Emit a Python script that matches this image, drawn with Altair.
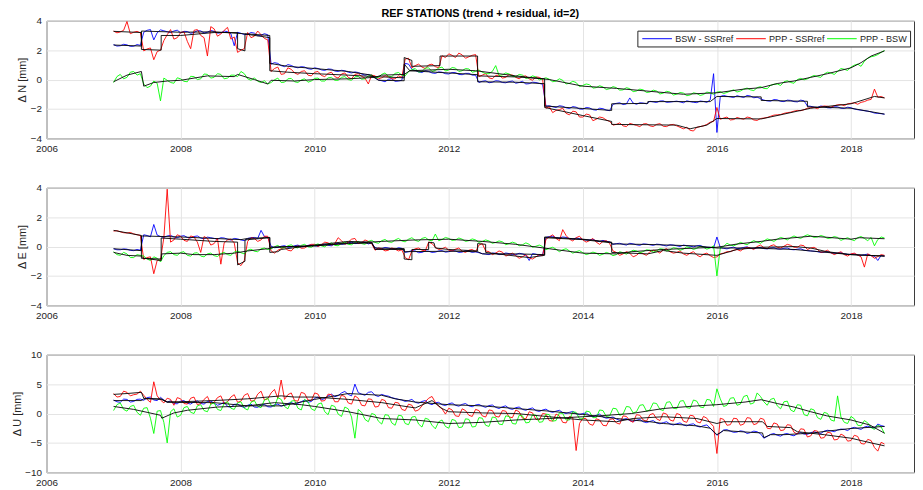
import altair as alt
import pandas as pd

SERIES = ["BSW - SSRref", "PPP - SSRref", "PPP - BSW"]
COLORS = ["#0000ff", "#ff0000", "#00ff00"]
FONT = "Liberation Sans"
TITLE = "REF STATIONS (trend + residual, id=2)"

# sampling epochs of the residual series (decimal years): whole tenths and the midpoints between them
YEARS = [round(2007.0 + 0.1 * i, 2) for i in range(116)]
YEARS_MID = [round(2007.05 + 0.1 * j, 2) for j in range(115)]
X_TICKS = [2006, 2008, 2010, 2012, 2014, 2016, 2018]

# ---------------- North ----------------
NB = [2.38, 2.30, 2.36, 2.27, 2.33, 3.35, 2.70, 3.38, 3.25, 3.30,
      3.18, 3.27, 3.20, 3.31, 3.22, 3.28, 3.18, 3.26, 2.30, 3.15,
      3.08, 3.16, 3.02, 3.05, 1.15, 0.95, 1.02, 0.85, 0.88, 0.74,
      0.80, 0.66, 0.72, 0.58, 0.63, 0.50, 0.52, 0.38, 0.35, 0.10,
      -0.08, 0.02, -0.12, -0.05, 1.05, 0.62, 0.48, 0.55, 0.42, 0.50,
      0.38, 0.47, 0.33, 0.42, 0.30, -0.12, -0.22, -0.08, -0.20, -0.14,
      -0.25, -0.12, -0.28, -0.20, -0.32, -1.78, -1.90, -1.82, -1.97, -1.88,
      -2.02, -1.93, -2.08, -1.98, -2.12, -1.62, -1.70, -1.25, -1.68, -1.60,
      -1.48, -1.56, -1.45, -1.53, -1.47, -1.58, -1.50, -1.57, -1.49, -1.38,
      -3.60, -1.08, -1.18, -1.10, -1.22, -1.12, -1.20, -1.40, -1.47, -1.38,
      -1.50, -1.42, -1.52, -1.45, -1.82, -1.90, -1.84, -1.93, -1.86, -1.97,
      -1.92, -2.05, -2.12, -2.20, -2.30, -2.36]
NB_M = [2.28, 2.40, 2.26, 2.38, 3.22, 3.40, 3.18, 3.32, 3.20, 3.36,
        3.28, 3.15, 3.33, 3.17, 3.34, 3.16, 3.30, 3.12, 3.22, 3.06,
        3.20, 2.98, 3.12, 1.05, 1.10, 0.88, 0.96, 0.80, 0.85, 0.70,
        0.75, 0.62, 0.70, 0.55, 0.60, 0.45, 0.48, 0.30, 0.25, -0.02,
        -0.15, 0.05, -0.10, 1.10, 0.70, 0.52, 0.60, 0.45, 0.52, 0.40,
        0.48, 0.35, 0.42, 0.30, -0.20, -0.08, -0.18, -0.10, -0.22, -0.10,
        -0.20, -0.30, -0.18, -0.26, -1.82, -1.85, -1.78, -1.92, -1.84, -2.00,
        -1.90, -2.05, -1.95, -2.08, -1.68, -1.58, -1.66, -1.60, -1.58, -1.65,
        -1.52, -1.46, -1.55, -1.50, -1.52, -1.45, -1.55, -1.46, -1.55, 0.40,
        -1.15, -1.14, -1.22, -1.16, -1.08, -1.24, -1.30, -1.45, -1.36, -1.48,
        -1.40, -1.50, -1.40, -1.80, -1.88, -1.80, -1.92, -1.85, -1.95, -1.88,
        -2.00, -2.08, -2.15, -2.28, -2.32]
NR = [3.30, 3.24, 3.95, 3.22, 3.18, 2.08, 1.35, 2.00, 3.05, 2.75,
      3.20, 2.60, 3.35, 3.00, 1.60, 3.45, 3.10, 3.55, 2.90, 2.00,
      3.20, 2.95, 3.05, 2.70, 0.75, 0.35, 0.80, 0.45, 0.55, 0.30,
      0.50, 0.28, 0.42, 0.20, 0.38, 0.15, 0.35, 0.22, -0.30, 0.25,
      0.12, 0.20, 0.05, 0.15, 1.45, 0.95, 0.85, 1.00, 0.88, 1.62,
      1.75, 1.50, 1.68, 1.55, 1.70, 0.30, 0.12, 0.28, 0.10, 0.35,
      0.15, 0.22, 0.05, 0.18, 0.02, -1.85, -2.10, -1.95, -2.40, -2.20,
      -2.55, -2.40, -2.70, -2.60, -2.85, -3.05, -3.15, -2.98, -3.12, -3.02,
      -3.15, -3.05, -3.18, -3.08, -3.15, -3.35, -3.45, -3.25, -3.15, -2.90,
      -1.90, -2.62, -2.75, -2.58, -2.70, -2.60, -2.78, -2.62, -2.50, -2.40,
      -2.30, -2.22, -2.10, -2.05, -1.92, -1.98, -1.80, -1.88, -1.72, -1.78,
      -1.62, -1.68, -1.50, -1.35, -1.20, -1.25]
NR_M = [3.18, 3.35, 3.12, 3.28, 1.95, 2.15, 1.90, 2.65, 3.40, 2.85,
        3.25, 2.10, 3.40, 2.85, 3.60, 2.95, 3.35, 2.75, 1.85, 2.10,
        2.85, 3.30, 2.80, 0.55, 0.85, 0.40, 0.70, 0.35, 0.60, 0.25,
        0.55, 0.20, 0.50, 0.10, 0.45, 0.05, 0.40, 0.10, 0.30, 0.05,
        0.25, 0.05, 0.25, 1.40, 0.80, 1.05, 0.75, 1.05, 0.80, 1.50,
        1.65, 1.80, 1.45, 1.65, 0.20, 0.40, 0.05, 0.30, 0.15, 0.30,
        0.05, 0.25, -0.05, 0.15, -1.95, -2.25, -2.05, -2.30, -2.15, -2.55,
        -2.35, -2.80, -2.55, -2.75, -3.10, -2.95, -3.20, -3.05, -3.20, -3.00,
        -3.20, -3.00, -3.20, -3.05, -3.25, -3.25, -3.50, -3.20, -3.05, -2.85,
        -2.70, -2.55, -2.72, -2.65, -2.55, -2.75, -2.65, -2.58, -2.42, -2.38,
        -2.25, -2.15, -2.12, -1.95, -1.90, -1.85, -1.82, -1.78, -1.70, -1.65,
        -1.58, -1.55, -1.40, -0.65, -1.15]
NG = [-0.20, 0.35, 0.15, 0.55, 0.40, -0.55, -0.10, -1.45, -0.05, -0.25,
      0.05, -0.15, 0.20, 0.05, 0.35, 0.15, 0.35, 0.10, 0.30, 0.55,
      0.05, 0.12, -0.20, -0.30, -0.02, -0.20, 0.05, -0.15, -0.02, -0.18,
      0.08, -0.10, 0.12, -0.05, 0.15, 0.00, 0.18, 0.02, 0.25, 0.10,
      0.35, 0.22, 0.42, 0.30, 0.55, 0.75, 0.55, 0.80, 0.62, 0.85,
      0.65, 0.78, 0.60, 0.72, 0.55, 0.50, 0.40, 0.95, 0.32, 0.38,
      0.20, 0.30, 0.12, 0.18, 0.05, 0.02, -0.10, -0.05, -0.25, -0.20,
      -0.40, -0.35, -0.55, -0.50, -0.62, -0.55, -0.70, -0.62, -0.78, -0.70,
      -0.85, -0.78, -0.92, -0.85, -1.00, -0.92, -1.05, -0.95, -1.02, -0.90,
      -0.85, -0.95, -0.78, -0.85, -0.65, -0.70, -0.55, -0.60, -0.40, -0.30,
      -0.15, -0.20, 0.00, -0.02, 0.18, 0.20, 0.38, 0.45, 0.55, 0.70,
      0.85, 1.05, 1.25, 1.55, 1.70, 1.98]
NG_M = [0.20, 0.05, 0.50, 0.30, -0.30, -0.45, -0.25, 0.10, -0.20, 0.12,
        -0.12, 0.22, 0.00, 0.38, 0.10, 0.40, 0.05, 0.30, 0.20, 0.40,
        -0.05, -0.12, -0.08, -0.20, 0.10, -0.18, 0.08, -0.20, 0.05, -0.10,
        0.10, -0.10, 0.15, -0.05, 0.20, -0.05, 0.22, 0.05, 0.30, 0.15,
        0.45, 0.20, 0.48, 0.25, 0.68, 0.50, 0.78, 0.55, 0.78, 0.58,
        0.82, 0.55, 0.75, 0.50, 0.65, 0.40, 0.55, 0.28, 0.45, 0.22,
        0.35, 0.08, 0.25, -0.02, 0.12, -0.15, 0.05, -0.30, -0.12, -0.48,
        -0.30, -0.58, -0.42, -0.68, -0.48, -0.72, -0.55, -0.82, -0.65, -0.88,
        -0.72, -0.98, -0.80, -1.05, -0.88, -1.10, -0.90, -1.08, -0.85, -1.00,
        -0.82, -0.88, -0.70, -0.78, -0.58, -0.75, -0.48, -0.62, -0.32, -0.40,
        -0.08, -0.25, 0.08, 0.05, 0.28, 0.15, 0.50, 0.35, 0.75, 0.62,
        0.98, 0.90, 1.45, 1.60, 1.85]
NB_TREND = [[2007.0, 2.35], [2007.415, 2.28], [2007.415, 3.3], [2008.0, 3.22], [2008.5, 3.25],
            [2009.0, 3.1], [2009.33, 3.0], [2009.33, 1.1], [2009.6, 0.9], [2010.0, 0.75],
            [2010.5, 0.55], [2010.85, 0.3], [2010.95, -0.05], [2011.335, -0.08], [2011.335, 1.05],
            [2011.42, 0.6], [2012.0, 0.45], [2012.43, 0.33], [2012.43, -0.15], [2013.0, -0.18],
            [2013.43, -0.28], [2013.43, -1.8], [2014.0, -1.97], [2014.43, -2.1], [2014.43, -1.65],
            [2014.97, -1.62], [2014.97, -1.5], [2015.9, -1.5], [2016.0, -1.15], [2016.66, -1.18],
            [2016.66, -1.42], [2017.35, -1.48], [2017.35, -1.85], [2018.0, -1.95], [2018.5, -2.35]]
NR_TREND = [[2007.0, 3.28], [2007.415, 3.2], [2007.415, 2.05], [2007.71, 2.0], [2007.71, 3.0],
            [2008.0, 3.0], [2008.5, 3.2], [2008.85, 3.2], [2008.85, 2.1], [2008.96, 1.95],
            [2008.96, 3.1], [2009.33, 2.85], [2009.33, 0.6], [2009.6, 0.5], [2010.0, 0.4],
            [2010.5, 0.3], [2010.9, 0.2], [2011.335, 0.12], [2011.335, 1.5], [2011.45, 1.3],
            [2011.45, 0.9], [2011.87, 0.95], [2011.87, 1.6], [2012.43, 1.6], [2012.43, 0.25],
            [2013.0, 0.18], [2013.43, 0.05], [2013.43, -1.9], [2014.0, -2.45], [2014.43, -2.85],
            [2014.43, -3.05], [2015.4, -3.1], [2015.6, -3.35], [2015.85, -3.1], [2016.0, -2.65],
            [2016.66, -2.68], [2017.0, -2.35], [2017.4, -1.95], [2018.0, -1.65], [2018.35, -1.15],
            [2018.5, -1.25]]
NG_TREND = [[2007.0, -0.15], [2007.2, 0.3], [2007.415, 0.55], [2007.45, -0.45], [2007.6, -0.2],
            [2007.8, -0.1], [2008.0, -0.05], [2008.4, 0.25], [2008.8, 0.2], [2008.85, 0.35],
            [2009.1, 0.0], [2009.3, -0.3], [2009.35, -0.05], [2009.7, -0.1], [2010.0, 0.0],
            [2010.5, 0.05], [2010.9, 0.15], [2011.0, 0.3], [2011.335, 0.35], [2011.42, 0.6],
            [2012.0, 0.7], [2012.4, 0.6], [2013.0, 0.25], [2013.5, 0.0], [2014.0, -0.45],
            [2014.5, -0.6], [2015.0, -0.8], [2015.5, -1.0], [2016.0, -0.9], [2016.4, -0.65],
            [2016.66, -0.55], [2016.9, -0.27], [2017.15, -0.1], [2017.4, 0.15], [2017.65, 0.4],
            [2018.0, 0.8], [2018.15, 1.15], [2018.3, 1.6], [2018.5, 1.95]]

# ---------------- East ----------------
EB = [-0.15, -0.22, -0.18, -0.28, -0.25, 0.75, 1.50, 0.68, 0.72, 0.65,
      0.70, 0.62, 0.68, 0.58, 0.64, 0.55, 0.60, 0.50, 0.55, 0.45,
      0.55, 0.62, 1.10, 0.62, -0.08, 0.02, -0.05, 0.05, -0.02, 0.08,
      0.05, 0.12, 0.08, 0.18, 0.15, 0.25, 0.20, 0.28, 0.18, -0.08,
      -0.15, -0.10, -0.18, -0.12, -0.35, -0.30, -0.40, -0.32, -0.38, -0.28,
      -0.35, -0.30, -0.38, -0.32, -0.36, -0.48, -0.55, -0.45, -0.52, -0.48,
      -0.55, -0.50, -0.95, -0.52, -0.58, 0.68, 0.60, 0.65, 0.55, 0.58,
      0.48, 0.45, 0.38, 0.42, 0.32, 0.20, 0.15, 0.22, 0.12, 0.18,
      0.12, 0.16, 0.08, 0.12, 0.05, 0.10, 0.02, 0.05, -0.02, -0.05,
      0.65, -0.12, -0.08, -0.14, -0.06, -0.12, -0.08, -0.14, -0.10, -0.16,
      -0.12, -0.20, -0.18, -0.25, -0.30, -0.35, -0.38, -0.42, -0.45, -0.50,
      -0.52, -0.58, -0.55, -0.62, -0.95, -0.65]
EB_M = [-0.22, -0.16, -0.26, -0.20, 0.80, 0.66, 0.78, 0.62, 0.76, 0.60,
        0.74, 0.58, 0.72, 0.52, 0.60, 0.50, 0.58, 0.44, 0.52, 0.40,
        0.60, 0.55, 0.68, 0.02, -0.06, 0.06, -0.04, 0.10, 0.00, 0.12,
        0.02, 0.16, 0.05, 0.22, 0.18, 0.30, 0.22, 0.30, 0.25, -0.14,
        -0.06, -0.16, -0.08, -0.40, -0.28, -0.42, -0.30, -0.40, -0.30, -0.38,
        -0.28, -0.40, -0.28, -0.40, -0.42, -0.52, -0.45, -0.55, -0.44, -0.55,
        -0.46, -0.58, -0.48, -0.60, 0.62, 0.70, 0.58, 0.62, 0.50, 0.54,
        0.44, 0.50, 0.34, 0.36, 0.14, 0.22, 0.10, 0.18, 0.08, 0.16,
        0.08, 0.14, 0.04, 0.10, 0.00, 0.06, -0.02, 0.08, -0.06, -0.10,
        -0.06, -0.16, -0.04, -0.12, -0.02, -0.14, -0.06, -0.16, -0.08, -0.18,
        -0.10, -0.22, -0.15, -0.28, -0.32, -0.40, -0.35, -0.46, -0.42, -0.54,
        -0.50, -0.60, -0.52, -0.66, -0.60]
ER = [1.05, 1.00, 0.92, 0.86, 0.76, -0.75, -1.85, -0.90, 3.90, 0.45,
      0.70, 0.35, 0.65, -0.40, 0.55, 0.20, -1.20, 0.45, 0.25, -1.30,
      0.35, 0.55, 0.45, 0.70, -0.45, -0.15, -0.25, -0.05, -0.12, 0.05,
      0.15, 0.12, 0.25, 0.20, 0.40, 0.30, 0.55, 0.25, 0.35, -0.25,
      -0.15, -0.25, -0.18, -0.22, -0.90, -0.15, -0.25, 0.30, -0.05, -0.15,
      -0.25, -0.18, -0.32, -0.25, -0.35, 0.20, -0.35, -0.45, -0.38, -0.55,
      -0.62, -0.70, -0.78, -0.70, -0.62, 0.65, 0.55, 1.15, 0.50, 0.60,
      0.45, 0.40, 0.30, 0.35, 0.20, -0.40, -0.50, -0.45, -0.60, -0.50,
      -0.35, -0.30, -0.22, -0.35, -0.40, -0.50, -0.45, -0.58, -0.52, -0.62,
      -0.70, -0.45, -0.35, -0.20, -0.15, -0.10, 0.00, -0.08, 0.05, -0.05,
      0.02, 0.08, -0.05, 0.05, -0.10, -0.20, -0.35, -0.42, -0.45, -0.55,
      -0.50, -0.58, -1.40, -0.62, -0.68, -0.60]
ER_M = [1.08, 0.94, 0.96, 0.80, -0.88, -0.70, -0.95, 0.60, 0.30, 0.80,
        0.42, 0.72, 0.30, 0.68, 0.10, 0.55, 0.25, 0.50, -1.10, -0.95,
        0.60, 0.35, 0.70, -0.30, -0.25, -0.05, -0.30, 0.05, -0.10, 0.15,
        0.00, 0.30, 0.10, 0.60, 0.15, 0.50, 0.20, 0.45, 0.20, -0.10,
        -0.30, -0.10, -0.30, -0.75, -0.30, -0.10, -0.30, 0.20, -0.20, -0.05,
        -0.30, -0.10, -0.40, -0.20, 0.10, -0.30, -0.55, -0.30, -0.65, -0.45,
        -0.80, -0.55, -0.85, -0.55, 0.50, 0.80, 0.40, 0.75, 0.38, 0.70,
        0.30, 0.55, 0.15, 0.40, -0.30, -0.60, -0.35, -0.70, -0.40, -0.60,
        -0.25, -0.45, -0.15, -0.45, -0.30, -0.60, -0.35, -0.70, -0.45, -0.75,
        -0.50, -0.35, -0.25, -0.30, -0.05, -0.20, 0.10, -0.15, 0.12, -0.10,
        0.15, -0.05, 0.10, -0.20, -0.05, -0.40, -0.25, -0.55, -0.35, -0.65,
        -0.45, -0.70, -0.50, -0.80, -0.55]
EG = [-0.35, -0.60, -0.50, -0.75, -0.60, -0.85, -0.70, -1.05, -0.40, -0.55,
      -0.40, -0.60, -0.45, -0.65, -0.50, -0.62, -0.48, -0.55, -0.38, -0.42,
      -0.25, -0.32, -0.15, -0.20, -0.02, -0.10, 0.05, -0.05, 0.08, -0.02,
      0.10, 0.05, 0.15, 0.08, 0.22, 0.15, 0.28, 0.20, 0.35, 0.28,
      0.40, 0.32, 0.45, 0.38, 0.50, 0.42, 0.55, 0.45, 0.85, 0.48,
      0.55, 0.45, 0.50, 0.40, 0.45, 0.35, 0.38, 0.28, 0.32, 0.20,
      0.22, 0.12, 0.15, 0.02, 0.00, -0.12, -0.18, -0.22, -0.30, -0.35,
      -0.42, -0.48, -0.45, -0.52, -0.48, -0.55, -0.42, -0.38, -0.30, -0.35,
      -0.25, -0.30, -0.18, -0.22, -0.12, -0.18, -0.08, -0.12, -0.05, -0.10,
      -2.00, 0.00, 0.10, 0.15, 0.20, 0.28, 0.30, 0.38, 0.45, 0.50,
      0.55, 0.60, 0.62, 0.70, 0.72, 0.65, 0.68, 0.58, 0.62, 0.52,
      0.48, 0.60, 0.55, 0.62, 0.48, 0.58]
EG_M = [-0.55, -0.40, -0.75, -0.55, -0.65, -0.95, -0.80, -0.62, -0.35, -0.60,
        -0.35, -0.65, -0.42, -0.70, -0.45, -0.68, -0.40, -0.60, -0.30, -0.50,
        -0.18, -0.35, -0.10, -0.15, 0.08, -0.08, 0.12, -0.10, 0.15, -0.05,
        0.18, -0.02, 0.25, 0.05, 0.30, 0.12, 0.35, 0.15, 0.42, 0.22,
        0.48, 0.28, 0.55, 0.32, 0.60, 0.35, 0.62, 0.38, 0.40, 0.62,
        0.42, 0.58, 0.35, 0.52, 0.28, 0.45, 0.22, 0.38, 0.12, 0.30,
        0.05, 0.25, -0.05, 0.10, -0.22, -0.05, -0.35, -0.15, -0.45, -0.28,
        -0.55, -0.38, -0.60, -0.40, -0.62, -0.35, -0.52, -0.25, -0.42, -0.22,
        -0.38, -0.15, -0.30, -0.08, -0.25, -0.02, -0.20, 0.02, -0.18, 0.05,
        -0.10, 0.22, 0.05, 0.28, 0.12, 0.40, 0.22, 0.52, 0.35, 0.62,
        0.45, 0.72, 0.55, 0.80, 0.62, 0.75, 0.55, 0.68, 0.42, 0.60,
        0.40, 0.68, 0.40, 0.05, 0.65]
EB_TREND = [[2007.0, -0.15], [2007.415, -0.28], [2007.415, 0.72], [2008.0, 0.65], [2008.5, 0.55],
            [2008.9, 0.47], [2009.0, 0.55], [2009.33, 0.62], [2009.33, -0.05], [2009.6, 0.0],
            [2010.0, 0.05], [2010.5, 0.25], [2010.85, 0.22], [2010.9, -0.1], [2011.335, -0.14],
            [2011.335, -0.35], [2012.0, -0.32], [2012.43, -0.35], [2012.5, -0.5], [2013.0, -0.5],
            [2013.43, -0.55], [2013.43, 0.65], [2014.0, 0.5], [2014.43, 0.3], [2014.43, 0.18],
            [2015.0, 0.14], [2015.7, 0.04], [2016.0, -0.1], [2016.5, -0.1], [2017.15, -0.2],
            [2017.4, -0.3], [2018.0, -0.55], [2018.5, -0.65]]
ER_TREND = [[2007.0, 1.1], [2007.415, 0.75], [2007.415, -0.8], [2007.71, -0.85], [2007.71, 0.58],
            [2008.0, 0.5], [2008.5, 0.35], [2008.85, 0.3], [2008.85, -1.25], [2008.96, -1.0],
            [2008.96, 0.45], [2009.33, 0.6], [2009.33, -0.4], [2009.45, -0.35], [2009.5, -0.2],
            [2010.0, 0.1], [2010.5, 0.35], [2010.85, 0.3], [2010.9, -0.2], [2011.335, -0.2],
            [2011.335, -0.85], [2011.45, -0.9], [2011.45, -0.2], [2011.7, -0.2], [2011.7, 0.3],
            [2011.78, 0.25], [2011.8, -0.1], [2012.0, -0.2], [2012.43, -0.3], [2012.43, 0.2],
            [2012.55, 0.15], [2012.55, -0.4], [2013.0, -0.65], [2013.2, -0.75], [2013.43, -0.6],
            [2013.43, 0.6], [2014.0, 0.47], [2014.43, 0.25], [2014.43, -0.4], [2014.97, -0.5],
            [2015.2, -0.27], [2015.5, -0.45], [2016.0, -0.6], [2016.3, -0.2], [2016.66, -0.05],
            [2017.15, 0.0], [2017.4, -0.1], [2017.64, -0.35], [2018.0, -0.55], [2018.5, -0.65]]
EG_TREND = [[2007.0, -0.4], [2007.2, -0.6], [2007.415, -0.65], [2007.45, -0.8], [2007.71, -0.95],
            [2007.72, -0.5], [2008.0, -0.45], [2008.2, -0.55], [2008.5, -0.55], [2008.8, -0.45],
            [2009.0, -0.3], [2009.3, -0.15], [2009.4, -0.05], [2009.7, 0.0], [2010.0, 0.05],
            [2010.5, 0.2], [2011.0, 0.35], [2011.5, 0.45], [2012.0, 0.5], [2012.5, 0.35],
            [2013.0, 0.15], [2013.5, -0.15], [2014.0, -0.45], [2014.5, -0.5], [2014.73, -0.35],
            [2015.2, -0.2], [2015.7, -0.1], [2016.0, -0.05], [2016.3, 0.17], [2016.66, 0.35],
            [2016.9, 0.5], [2017.4, 0.7], [2017.64, 0.63], [2018.0, 0.5], [2018.13, 0.6],
            [2018.5, 0.53]]

# ---------------- Up ----------------
UB = [2.30, 1.90, 2.40, 2.05, 2.45, 2.70, 2.30, 2.75, 1.95, 1.70,
      2.10, 1.75, 2.00, 1.70, 2.05, 1.75, 1.60, 1.20, 1.55, 1.25,
      1.40, 1.10, 1.45, 1.15, 1.50, 1.25, 1.70, 1.55, 2.00, 1.90,
      2.60, 2.35, 3.00, 2.85, 3.50, 3.25, 5.00, 3.30, 3.60, 3.10,
      3.25, 2.95, 2.55, 2.30, 2.20, 1.90, 2.05, 1.70, 1.85, 1.50,
      1.65, 1.40, 1.55, 1.30, 1.45, 1.25, 1.35, 1.05, 1.15, 0.85,
      1.00, 0.70, 0.80, 0.50, 0.60, 0.35, 0.40, 0.15, 0.20, -0.05,
      0.00, -0.35, -0.30, -0.60, -0.70, -0.95, -1.05, -1.20, -1.15, -1.40,
      -1.35, -1.60, -1.55, -1.80, -1.75, -1.95, -1.85, -2.15, -2.05, -2.50,
      -3.70, -2.80, -3.00, -3.15, -3.05, -3.25, -3.10, -4.20, -3.55, -3.70,
      -3.50, -3.65, -3.40, -3.50, -3.25, -3.30, -3.00, -2.95, -2.80, -2.70,
      -2.50, -2.55, -2.30, -2.35, -1.80, -2.20]
UB_M = [2.00, 2.45, 1.95, 2.40, 2.25, 2.80, 2.20, 2.30, 2.15, 1.65,
        2.20, 1.60, 2.15, 1.60, 2.10, 1.40, 1.95, 1.05, 1.60, 1.00,
        1.60, 1.05, 1.55, 1.10, 1.60, 1.40, 1.90, 1.75, 2.30, 2.05,
        2.80, 2.55, 3.30, 3.05, 3.75, 3.00, 3.55, 3.10, 3.70, 2.90,
        3.05, 2.70, 2.40, 2.05, 2.40, 1.75, 2.20, 1.50, 1.90, 1.35,
        1.80, 1.25, 1.70, 1.15, 1.55, 1.05, 1.45, 0.85, 1.30, 0.70,
        1.10, 0.55, 0.95, 0.35, 0.75, 0.20, 0.55, 0.00, 0.35, -0.20,
        0.10, -0.55, -0.10, -0.80, -0.60, -1.15, -0.85, -1.35, -1.00, -1.55,
        -1.20, -1.75, -1.40, -1.95, -1.60, -2.10, -1.75, -2.30, -1.95, -3.10,
        -3.30, -2.75, -3.20, -2.95, -3.40, -3.00, -3.45, -3.90, -3.40, -3.85,
        -3.40, -3.80, -3.25, -3.55, -3.10, -3.40, -2.85, -3.10, -2.65, -2.90,
        -2.35, -2.70, -2.15, -2.50, -2.05]
UR = [3.40, 2.90, 3.60, 3.20, 3.80, 2.40, 5.40, 2.30, 2.60, 1.40,
      2.50, 1.60, 2.80, 1.70, 2.90, 1.90, 3.00, 2.00, 3.20, 2.10,
      3.40, 2.20, 3.80, 2.50, 4.10, 5.70, 3.20, 2.20, 3.60, 2.30,
      3.50, 2.10, 3.30, 2.00, 3.10, 1.80, 3.00, 1.40, 2.50, 1.10,
      2.40, 1.00, 1.90, 0.70, 1.60, 0.40, 1.30, 2.60, 1.90, 0.80,
      0.90, -0.40, 0.80, -0.30, 0.70, -0.40, 0.60, -0.50, 0.50, -0.60,
      0.60, -0.80, 0.30, -1.00, 0.00, -1.20, -0.10, -1.50, -0.50, -6.30,
      -0.80, -1.80, -0.90, -2.00, -1.00, -1.60, -0.40, -1.20, -0.20, -1.10,
      -0.20, -0.90, 0.10, -1.10, 0.00, -1.30, -0.30, -1.40, -0.50, -1.60,
      -6.80, -1.00, -1.90, -0.90, -1.80, -0.80, -1.70, -1.00, -2.60, -1.80,
      -2.80, -2.00, -3.50, -2.70, -3.80, -3.00, -4.10, -3.30, -4.40, -3.80,
      -4.60, -3.90, -5.20, -4.60, -6.40, -5.20]
UR_M = [2.80, 3.80, 3.00, 3.30, 3.10, 1.90, 3.00, 1.80, 2.40, 2.70,
        1.70, 2.60, 1.50, 2.40, 1.60, 2.70, 1.70, 2.80, 1.90, 3.10,
        2.10, 3.30, 2.30, 3.50, 2.60, 2.40, 3.50, 2.10, 3.40, 2.20,
        3.30, 2.20, 3.20, 2.00, 2.90, 1.60, 2.60, 1.30, 2.40, 1.20,
        2.20, 0.90, 1.80, 0.50, 1.40, 0.60, 2.00, 2.90, 1.20, -0.10,
        0.60, -0.50, 0.50, -0.50, 0.50, -0.60, 0.50, -0.60, 0.40, -0.70,
        0.30, -0.90, 0.10, -1.10, -0.10, -1.30, -0.40, -1.60, -0.70, -1.70,
        -0.90, -2.00, -1.10, -2.10, -0.90, -1.80, -0.50, -1.50, -0.30, -1.30,
        0.00, -1.20, -0.10, -1.30, -0.20, -1.50, -0.40, -1.60, -0.80, -2.20,
        -0.80, -2.00, -0.80, -2.00, -0.70, -1.90, -0.80, -2.50, -1.60, -2.90,
        -1.90, -3.20, -2.60, -4.00, -2.90, -4.20, -3.20, -4.50, -3.50, -4.70,
        -3.70, -5.10, -4.40, -5.80, -4.90]
UG = [0.50, 1.80, 0.40, 1.40, -0.30, 1.00, -3.40, 0.50, -5.00, 0.80,
      -0.30, 1.20, 0.00, 1.50, 0.30, 1.80, 0.50, 2.00, 0.70, 2.00,
      0.60, 2.20, 1.00, 2.60, 1.20, 2.40, 0.80, 2.20, 0.60, 2.00,
      0.50, 1.80, -0.20, 1.20, -0.50, 0.80, -4.20, 0.20, -1.40, -0.20,
      -1.80, -0.30, -2.00, -0.40, -1.90, -0.50, -2.30, -1.00, -2.60, -1.10,
      -2.50, -1.20, -2.30, -1.00, -2.20, -0.80, -2.20, -0.70, -1.90, -0.50,
      -1.80, -0.40, -1.50, -0.30, -1.40, -0.20, -1.20, 0.00, -1.10, 0.20,
      -0.90, 0.30, -0.70, 0.50, -0.40, 0.80, -0.10, 1.10, 0.30, 1.50,
      0.60, 1.70, 0.50, 2.00, 0.80, 2.20, 0.90, 2.10, 1.00, 2.30,
      4.20, 1.20, 2.60, 1.40, 2.90, 1.60, 3.50, 2.00, 2.40, 1.30,
      2.00, 0.60, 1.50, -0.20, 0.80, -0.70, 0.20, -1.10, 3.00, -1.50,
      -0.50, -2.00, -1.20, -2.40, -2.00, -3.40]
UG_M = [1.50, 0.70, 1.20, 0.20, 0.90, -0.80, 0.40, -1.50, 0.30, -0.60,
        1.00, 0.20, 1.30, 0.50, 1.60, 0.70, 1.70, 0.90, 1.80, 0.90,
        1.90, 1.20, 2.30, 1.40, 2.70, 1.20, 2.10, 0.90, 2.40, 0.80,
        1.60, 0.30, 1.40, -0.10, 1.10, -0.60, 0.70, -1.00, 0.00, -1.30,
        -0.20, -1.60, -0.30, -1.70, -0.60, -1.80, -0.80, -2.00, -1.40, -2.20,
        -1.00, -2.40, -0.90, -2.30, -0.70, -2.00, -0.60, -1.80, -0.40, -1.70,
        -0.30, -1.60, -0.20, -1.50, -0.10, -1.30, 0.10, -1.10, 0.30, -0.90,
        0.40, -0.70, 0.60, -0.50, 0.90, -0.30, 1.20, 0.10, 1.40, 0.40,
        1.80, 0.70, 1.90, 0.90, 2.10, 1.00, 2.30, 1.10, 2.40, 1.20,
        2.50, 1.40, 2.70, 1.60, 3.10, 1.80, 2.90, 1.40, 2.60, 0.80,
        2.10, 0.30, 1.40, -0.40, 0.60, -1.00, 0.00, -1.30, -0.60, -1.70,
        -0.90, -2.10, -1.60, -2.70, -2.30]
UB_TREND = [[2007.0, 2.2], [2007.415, 2.2], [2007.45, 2.5], [2007.71, 2.5], [2007.8, 1.9],
            [2008.5, 1.85], [2009.0, 1.3], [2009.5, 1.3], [2010.0, 2.4], [2010.5, 3.4],
            [2011.0, 3.1], [2011.2, 2.5], [2011.5, 1.95], [2012.0, 1.5], [2012.5, 1.3],
            [2013.0, 0.85], [2013.5, 0.4], [2014.0, -0.15], [2014.5, -0.85], [2015.0, -1.4],
            [2015.2, -1.7], [2015.7, -2.1], [2015.9, -2.5], [2016.0, -3.6], [2016.1, -2.9],
            [2016.5, -3.2], [2016.68, -3.3], [2016.7, -4.1], [2016.8, -3.6], [2017.0, -3.6],
            [2017.4, -3.35], [2017.64, -3.0], [2018.0, -2.55], [2018.5, -2.2]]
UR_TREND = [[2007.0, 3.25], [2007.2, 3.4], [2007.415, 3.6], [2007.45, 2.6], [2007.71, 2.4],
            [2007.8, 2.0], [2008.0, 2.0], [2008.5, 2.2], [2009.0, 2.5], [2009.5, 3.0],
            [2009.7, 2.8], [2010.0, 2.8], [2010.5, 2.4], [2011.0, 1.85], [2011.3, 1.3],
            [2011.5, 0.95], [2011.75, 2.2], [2011.9, 0.85], [2012.0, 0.3], [2012.5, 0.1],
            [2013.0, 0.0], [2013.5, -0.55], [2014.0, -1.1], [2014.5, -1.4], [2014.75, -0.85],
            [2015.2, -0.55], [2015.7, -0.85], [2016.0, -1.7], [2016.1, -1.4], [2016.68, -1.4],
            [2016.75, -2.2], [2017.1, -2.4], [2017.2, -3.1], [2017.6, -3.6], [2018.0, -4.2],
            [2018.3, -5.0], [2018.5, -5.5]]
UG_TREND = [[2007.0, 1.2], [2007.3, 0.7], [2007.5, 0.2], [2007.7, -0.3], [2007.72, -0.8],
            [2007.9, 0.1], [2008.1, 0.55], [2008.55, 1.1], [2009.0, 1.3], [2009.4, 1.85],
            [2009.8, 1.5], [2010.0, 1.2], [2010.5, 0.3], [2011.0, -0.85], [2011.5, -1.1],
            [2012.0, -1.7], [2012.5, -1.5], [2013.0, -1.1], [2013.5, -0.85], [2014.0, -0.55],
            [2014.24, -0.4], [2014.73, 0.0], [2015.2, 0.85], [2015.7, 1.3], [2016.0, 1.5],
            [2016.42, 1.95], [2016.66, 2.35], [2016.9, 1.7], [2017.15, 1.1], [2017.4, 0.3],
            [2017.64, -0.4], [2018.0, -1.1], [2018.28, -1.95], [2018.5, -3.35]]

PANELS = [
    ("\u0394 N [mm]", [-4, 4], [-4, -2, 0, 2, 4],
     [(NB, NB_M), (NR, NR_M), (NG, NG_M)], [NB_TREND, NR_TREND, NG_TREND]),
    ("\u0394 E [mm]", [-4, 4], [-4, -2, 0, 2, 4],
     [(EB, EB_M), (ER, ER_M), (EG, EG_M)], [EB_TREND, ER_TREND, EG_TREND]),
    ("\u0394 U [mm]", [-10, 10], [-10, -5, 0, 5, 10],
     [(UB, UB_M), (UR, UR_M), (UG, UG_M)], [UB_TREND, UR_TREND, UG_TREND]),
]

W, H = 878, 119


def make_panel(ytitle, ydom, yticks, values, trends, with_title):
    x = alt.X("t:Q", scale=alt.Scale(domain=[2006, 2018.94], nice=False, zero=False),
              axis=alt.Axis(values=X_TICKS, format="d", title=None, labelPadding=5,
                            labelFlush=False))
    y = alt.Y("v:Q", scale=alt.Scale(domain=ydom, nice=False, zero=False),
              axis=alt.Axis(values=yticks, title=ytitle, labelPadding=5, titlePadding=2.5,
                            labelFlush=False))
    color = alt.Color("series:N", scale=alt.Scale(domain=SERIES, range=COLORS),
                      legend=alt.Legend(title=None, orient="none", legendX=598, legendY=10,
                                        direction="horizontal", symbolType="M-0.6,0H5.4",
                                        symbolSize=100, symbolStrokeWidth=1,
                                        labelFont=FONT, labelFontSize=9.2, labelColor="#262626",
                                        labelOffset=24.8, columnPadding=0, padding=2.5,
                                        strokeColor="#262626", fillColor="white"))
    layers = []
    for name, (vals, mids) in zip(SERIES, values):
        df = pd.DataFrame({"t": YEARS + YEARS_MID, "v": vals + mids, "series": name})
        df = df.sort_values("t")
        layers.append(alt.Chart(df).mark_line(strokeWidth=0.9, clip=True)
                      .encode(x=x, y=y, color=color))
    rows = []
    for name, knots in zip(SERIES, trends):
        for k, (t, v) in enumerate(knots):
            rows.append({"t": t, "v": v, "series": name, "k": k})
    tdf = pd.DataFrame(rows)
    trend = alt.Chart(tdf).mark_line(color="black", strokeWidth=0.9, clip=True).encode(
        x=x, y=y, detail="series:N", order="k:Q")
    ch = alt.layer(*layers, trend).properties(width=W, height=H)
    if with_title:
        ch = ch.properties(title=alt.TitleParams(TITLE, anchor="middle", frame="group",
                                                 font=FONT, fontSize=11, fontWeight="bold",
                                                 color="black", offset=-3))
    return ch


panels = [make_panel(*p, with_title=(i == 0)) for i, p in enumerate(PANELS)]

chart = alt.vconcat(*panels, spacing=28).properties(
    padding={"left": 3, "top": -4, "right": 0, "bottom": 0}
).configure_view(
    stroke="#3a3a3a", strokeWidth=1
).configure_axis(
    labelFont=FONT, labelFontSize=10, labelColor="#262626",
    titleFont=FONT, titleFontSize=11, titleFontWeight="normal", titleColor="#262626",
    grid=True, gridColor="#e4e4e4", gridWidth=1, domain=False, ticks=False
)

chart.save("out.html", embed_options={"renderer": "svg", "actions": False})
